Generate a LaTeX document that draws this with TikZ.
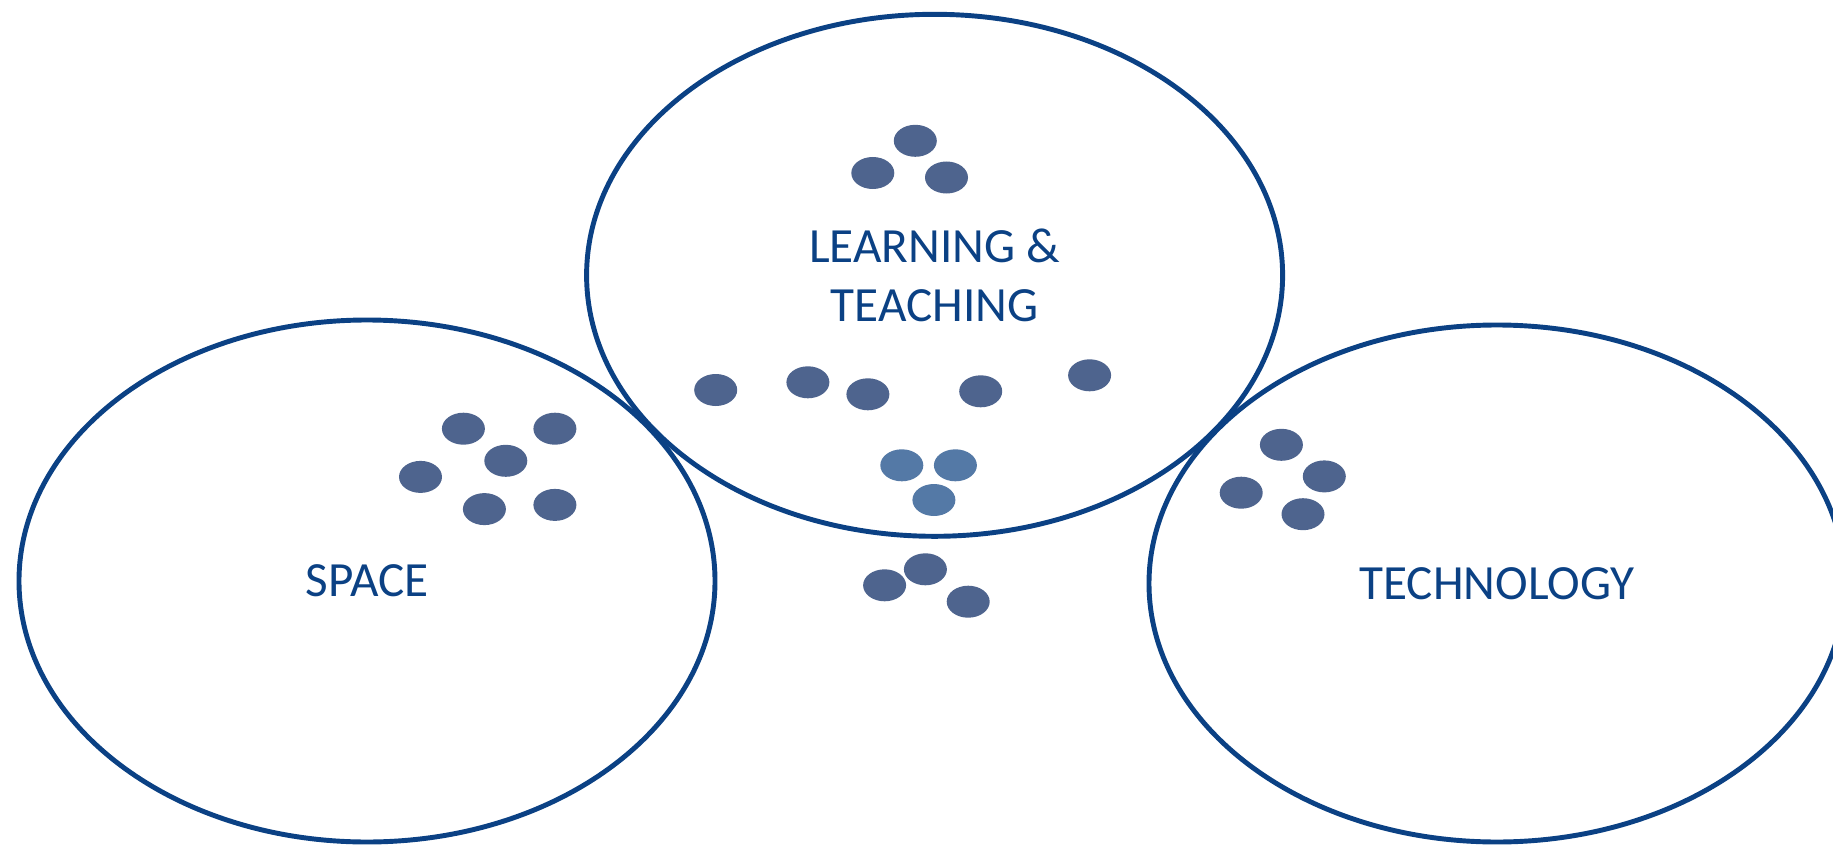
\documentclass[tikz,border=0pt]{standalone}
\usepackage{fontspec}
\setmainfont{Carlito}
\usetikzlibrary{shapes.geometric}
\definecolor{ringblue}{RGB}{11,65,132}
\definecolor{pebbleblue}{RGB}{78,100,142}
\definecolor{pebblelight}{RGB}{84,121,166}
\tikzset{
	ringzone/.style={shape=ellipse, draw=ringblue, line width=1.4pt, minimum width=6.96cm, minimum height=5.22cm, inner sep=0pt, align=center, text=ringblue, font=\fontsize{14}{17}\selectfont},
	pebble/.style={shape=ellipse, fill=pebbleblue, minimum width=0.43cm, minimum height=0.32cm, inner sep=0pt},
	pebblepale/.style={pebble, fill=pebblelight}
}
\begin{document}
\begin{tikzpicture}
	\useasboundingbox (0, 0) rectangle (18.33, 8.45);
	% Rings:
	\node[ringzone] (learning) at (9.346, 5.697){LEARNING \&\\TEACHING};
	\node[ringzone] (space) at (3.67, 2.64){SPACE};
	\node[ringzone, minimum height=5.17cm] (technology) at (14.97, 2.615){TECHNOLOGY};
	% Pebbles in learning & teaching:
	\node[pebble] (lt1) at (9.153, 7.042){};
	\node[pebble] (lt2) at (8.728, 6.72){};
	\node[pebble] (lt3) at (9.465, 6.675){};
	\node[pebble] (lt4) at (7.157, 4.55){};
	\node[pebble] (lt5) at (8.079, 4.627){};
	\node[pebble] (lt6) at (8.679, 4.507){};
	\node[pebble] (lt7) at (9.807, 4.537){};
	\node[pebble] (lt8) at (10.896, 4.697){};
	\node[pebblepale] (lt9) at (9.018, 3.797){};
	\node[pebblepale] (lt10) at (9.554, 3.797){};
	\node[pebblepale] (lt11) at (9.339, 3.45){};
	% Pebbles below the rings:
	\node[pebble] (mid1) at (8.846, 2.597){};
	\node[pebble] (mid2) at (9.254, 2.757){};
	\node[pebble] (mid3) at (9.682, 2.433){};
	% Pebbles in space:
	\node[pebble] (sp1) at (4.634, 4.163){};
	\node[pebble] (sp2) at (5.549, 4.163){};
	\node[pebble] (sp3) at (5.058, 3.842){};
	\node[pebble] (sp4) at (4.205, 3.681){};
	\node[pebble] (sp5) at (4.844, 3.359){};
	\node[pebble] (sp6) at (5.549, 3.401){};
	% Pebbles in technology:
	\node[pebble] (te1) at (12.814, 4.002){};
	\node[pebble] (te2) at (13.243, 3.686){};
	\node[pebble] (te3) at (12.412, 3.523){};
	\node[pebble] (te4) at (13.03, 3.308){};
\end{tikzpicture}
\end{document}
